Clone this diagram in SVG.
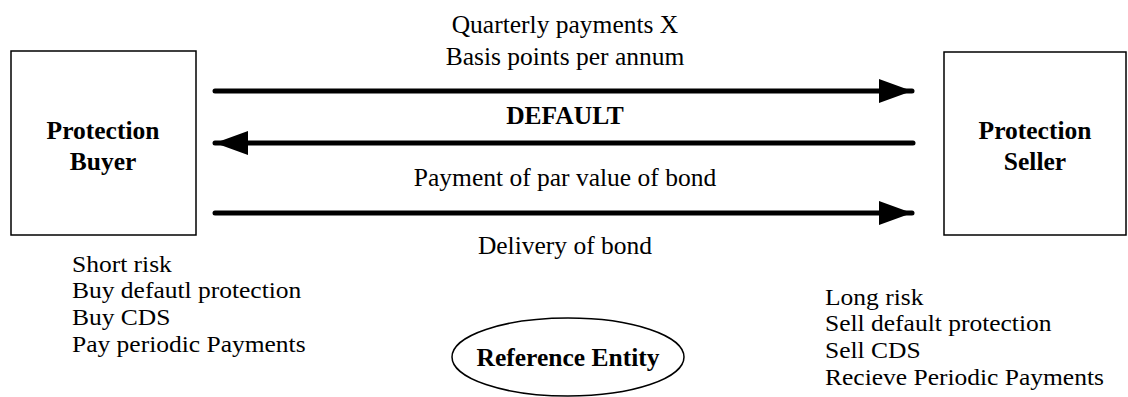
<svg xmlns="http://www.w3.org/2000/svg" width="1128" height="397" viewBox="0 0 1128 397">
<style>
text{font-family:"Liberation Serif","Times New Roman",serif;font-size:25.5px;fill:#000}
.b{font-weight:bold}
.c{text-anchor:middle}
.n text{font-size:24px}
.box{fill:#fff;stroke:#000;stroke-width:1.5}
.ln{stroke:#000;stroke-width:5;stroke-linecap:round;fill:none}
</style>
<defs>
<marker id="ah" viewBox="0 0 10 10" refX="10" refY="5" markerWidth="6.6" markerHeight="4.8" orient="auto" markerUnits="strokeWidth" preserveAspectRatio="none">
<path d="M0,0 L10,5 L0,10 z" fill="#000"/>
</marker>
</defs>
<rect width="1128" height="397" fill="#fff"/>
<g id="buyer">
<rect class="box" x="11" y="51" width="185" height="184"/>
<text class="b c" x="103" y="139">Protection</text>
<text class="b c" x="103" y="170">Buyer</text>
</g>
<g id="seller">
<rect class="box" x="944" y="52" width="182" height="183"/>
<text class="b c" x="1035" y="139">Protection</text>
<text class="b c" x="1035" y="170">Seller</text>
</g>
<g id="reference">
<ellipse class="box" cx="568" cy="357" rx="116" ry="39"/>
<text class="b c" x="568" y="366">Reference Entity</text>
</g>
<g id="connectors">
<line class="ln" x1="215" y1="91" x2="912" y2="91" marker-end="url(#ah)"/>
<line class="ln" x1="913" y1="143" x2="215" y2="143" marker-end="url(#ah)"/>
<line class="ln" x1="215" y1="213" x2="912" y2="213" marker-end="url(#ah)"/>
<text class="c" x="565" y="33">Quarterly payments X</text>
<text class="c" x="565" y="65">Basis points per annum</text>
<text class="b c" x="565" y="124">DEFAULT</text>
<text class="c" x="565" y="186">Payment of par value of bond</text>
<text class="c" x="565" y="254">Delivery of bond</text>
</g>
<g id="buyer-notes" class="n" transform="translate(72,0) scale(1.0625,1)">
<text x="0" y="272">Short risk</text>
<text x="0" y="298.5">Buy defautl protection</text>
<text x="0" y="325.5">Buy CDS</text>
<text x="0" y="352">Pay periodic Payments</text>
</g>
<g id="seller-notes" class="n" transform="translate(825,0) scale(1.0625,1)">
<text x="0" y="305">Long risk</text>
<text x="0" y="331.5">Sell default protection</text>
<text x="0" y="358">Sell CDS</text>
<text x="0" y="385">Recieve Periodic Payments</text>
</g>
</svg>
